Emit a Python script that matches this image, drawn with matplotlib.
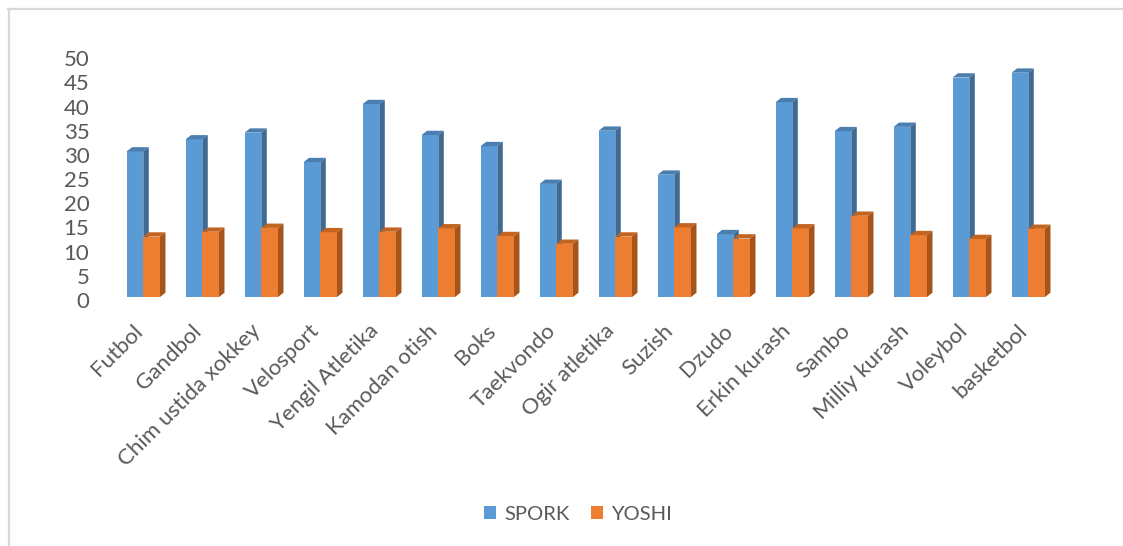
import matplotlib
matplotlib.use("Agg")
import matplotlib.pyplot as plt
from matplotlib.patches import Polygon, Patch
from matplotlib.lines import Line2D
from matplotlib.transforms import ScaledTranslation
import numpy as np

categories = ["Futbol", "Gandbol", "Chim ustida xokkey", "Velosport", "Yengil Atletika",
              "Kamodan otish", "Boks", "Taekvondo", "Ogir atletika", "Suzish", "Dzudo",
              "Erkin kurash", "Sambo", "Milliy kurash", "Voleybol", "basketbol"]
spork = [30.1, 32.6, 34.0, 27.9, 39.9, 33.5, 31.2, 23.4, 34.4, 25.3, 13.0,
         40.3, 34.3, 35.2, 45.4, 46.4]
yoshi = [12.5, 13.5, 14.3, 13.4, 13.5, 14.2, 12.6, 11.0, 12.5, 14.4, 12.1,
         14.2, 16.8, 12.8, 12.0, 14.1]
y_ticks = [0, 5, 10, 15, 20, 25, 30, 35, 40, 45, 50]

plt.rcParams['font.family'] = ['Lato', 'DejaVu Sans']
text_col = "#595959"

W, H = 1123, 546
fig = plt.figure(figsize=(W / 100, H / 100), dpi=100)
ax = fig.add_axes([100 / W, (H - 297) / H, 980 / W, 241.7 / H])

x = np.arange(len(categories))
w = 0.283      # front width of one bar
dx = 0.093     # depth, x direction
dy = 0.89      # depth, y direction

faces = [
    (spork, -w / 2, "#5b9bd5", "#4a7db0", "#3e6a94", 1),
    (yoshi, w / 2, "#ed7d31", "#c4651f", "#a5541b", 3),
]
for vals, off, front, top, side, z in faces:
    ax.bar(x + off, vals, w, color=front, zorder=z, linewidth=0)
    for xi, v in zip(x, vals):
        l = xi + off - w / 2
        r = xi + off + w / 2
        ax.add_patch(Polygon([(l, v), (r, v), (r + dx, v + dy), (l + dx, v + dy)],
                             closed=True, facecolor=top, edgecolor="none", zorder=z + 0.5))
        ax.add_patch(Polygon([(r, 0), (r + dx, dy), (r + dx, v + dy), (r, v)],
                             closed=True, facecolor=side, edgecolor="none", zorder=z + 0.5))

ax.set_xlim((100 - 143.3) / 59, (1080 - 143.3) / 59)
ax.set_ylim(0, 50)
ax.set_yticks(y_ticks)
ax.set_xticks(x)
ax.set_xticklabels(categories, rotation=45, ha="right", va="baseline",
                   rotation_mode="anchor")
ax.tick_params(axis="both", length=0, labelsize=16, labelcolor=text_col)
ax.tick_params(axis="y", pad=7.7)
ax.tick_params(axis="x", pad=0)
for s in ax.spines.values():
    s.set_visible(False)

for lab in ax.get_yticklabels():
    lab.set_transform(lab.get_transform() + ScaledTranslation(0, -3 / 100, fig.dpi_scale_trans))
for lab in ax.get_xticklabels():
    lab.set_transform(lab.get_transform() + ScaledTranslation(0, -35 / 100, fig.dpi_scale_trans))

handles = [Patch(facecolor="#5b9bd5", label="SPORK"), Patch(facecolor="#ed7d31", label="YOSHI")]
fig.legend(handles=handles, loc="center", bbox_to_anchor=(578 / W, 32 / H), ncol=2,
           frameon=False, fontsize=14.5, labelcolor=text_col, handlelength=0.6,
           handleheight=0.6, handletextpad=0.4, columnspacing=1.1)

# chart border (only top and left edges visible)
fig.add_artist(Line2D([8 / W, 1], [1 - 8.5 / H, 1 - 8.5 / H], transform=fig.transFigure,
                      color="#d9d9d9", linewidth=1.6))
fig.add_artist(Line2D([8.5 / W, 8.5 / W], [0, 1 - 8.5 / H], transform=fig.transFigure,
                      color="#d9d9d9", linewidth=1.6))

fig.savefig("out.png", dpi=100)
